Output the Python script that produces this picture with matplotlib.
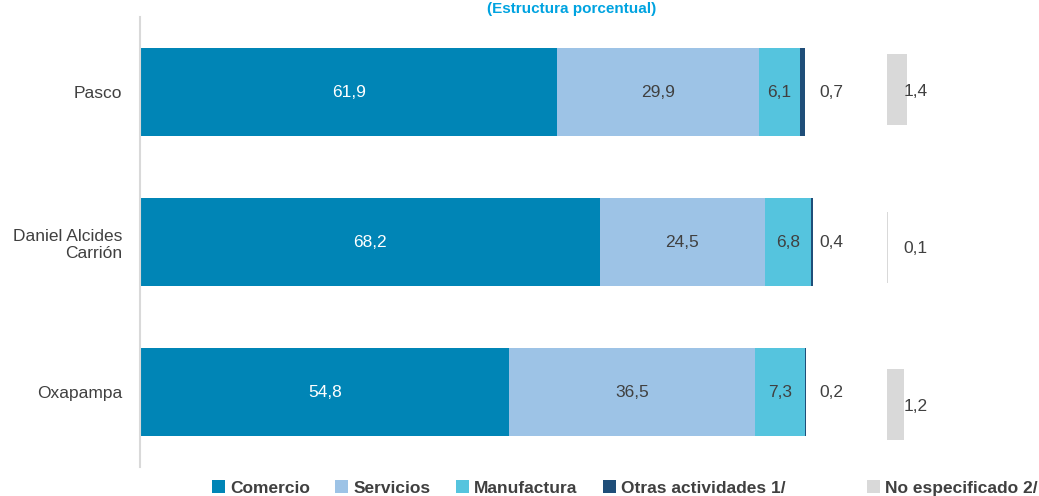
import matplotlib
matplotlib.use("Agg")
import matplotlib.pyplot as plt
from matplotlib.patches import Patch
import numpy as np

plt.rcParams['font.family'] = ['Liberation Sans Narrow', 'Liberation Sans', 'DejaVu Sans']

provincias = ["Pasco", "Daniel Alcides\nCarrión", "Oxapampa"]
comercio = [61.9, 68.2, 54.8]
servicios = [29.9, 24.5, 36.5]
manufactura = [6.1, 6.8, 7.3]
otras = [0.7, 0.4, 0.2]
no_especificado = [1.4, 0.1, 1.2]
series_names = ["Comercio", "Servicios", "Manufactura", "Otras actividades 1/", "No especificado 2/"]
titulo = "(Estructura porcentual)"

colors = ["#0085B6", "#9DC3E6", "#55C4DE", "#1F4E79", "#D9D9D9"]
text_dark = "#404040"

W, H = 1039, 496
fig = plt.figure(figsize=(W / 100, H / 100), dpi=100)

ppu = 6.74
ax_left = 140
ax_right = 870
xmax = (ax_right - ax_left) / ppu
ax = fig.add_axes([ax_left / W, 1 - 467 / H, (ax_right - ax_left) / W, 450 / H])
y = np.arange(len(provincias))
bh = 88 / 150
left = np.zeros(len(provincias))
stack = [comercio, servicios, manufactura, otras]
for i, vals in enumerate(stack):
    ax.barh(y, vals, left=left, height=bh, color=colors[i], edgecolor="none")
    for j, v in enumerate(vals):
        if i < 3:
            ax.text(left[j] + v / 2, y[j], f"{v:.1f}".replace(".", ","),
                    ha="center", va="center", fontsize=12.5,
                    color="white" if i == 0 else text_dark)
        else:
            ax.text(102.6, y[j], f"{v:.1f}".replace(".", ","),
                    ha="center", va="center", fontsize=12.5, color=text_dark)
    left = left + np.array(vals)

ax.set_xlim(0, xmax)
ax.set_ylim(2.5, -0.5)
ax.set_yticks(y)
ax.set_yticklabels(provincias, fontsize=12.5, color=text_dark, ha="right")
ax.tick_params(axis="y", length=0, pad=13)
ax.set_xticks([])
for s in ["top", "right", "bottom"]:
    ax.spines[s].set_visible(False)
ax.spines["left"].set_color("#D9D9D9")
ax.spines["left"].set_linewidth(1.5)
ax.patch.set_alpha(0)

# secondary axes for "No especificado"
ppu2 = 14.2
ax2_left = 887
ax2_right = 1000
top2 = 89.5 - 0.5 * 157.5
bottom2 = 404.5 + 0.5 * 157.5
ax2 = fig.add_axes([ax2_left / W, 1 - bottom2 / H, (ax2_right - ax2_left) / W, (bottom2 - top2) / H])
ax2.barh(y, no_especificado, height=71 / 157.5, color=colors[4], edgecolor="none")
for j, v in enumerate(no_especificado):
    ax2.text(2.0, y[j] + 0.012, f"{v:.1f}".replace(".", ","), ha="center", va="center",
             fontsize=12.5, color=text_dark)
ax2.set_xlim(0, (ax2_right - ax2_left) / ppu2)
ax2.set_ylim(2.5, -0.5)
ax2.axis("off")

# title (only its lower edge shows in the reference; kept fully visible here)
fig.text(0.55, 1 - 2 / H, titulo, ha="center", va="top", fontsize=11,
         fontweight="bold", color="#00A3E0")

# legends
h1 = [Patch(facecolor=colors[i], edgecolor="none") for i in range(4)]
leg1 = fig.legend(h1, series_names[:4], loc="center left",
                  bbox_to_anchor=(212 / W, 1 - 488 / H), ncol=4, frameon=False,
                  handlelength=0.75, handleheight=0.75, handletextpad=0.3,
                  columnspacing=1.45, borderaxespad=0, borderpad=0,
                  prop={"size": 12.5, "weight": "bold"})
for t in leg1.get_texts():
    t.set_color(text_dark)
h2 = [Patch(facecolor=colors[4], edgecolor="none")]
leg2 = fig.legend(h2, series_names[4:], loc="center left",
                  bbox_to_anchor=(867 / W, 1 - 488 / H), ncol=1, frameon=False,
                  handlelength=0.75, handleheight=0.75, handletextpad=0.3,
                  borderaxespad=0, borderpad=0,
                  prop={"size": 12.5, "weight": "bold"})
for t in leg2.get_texts():
    t.set_color(text_dark)

fig.savefig("out.png", dpi=100)
